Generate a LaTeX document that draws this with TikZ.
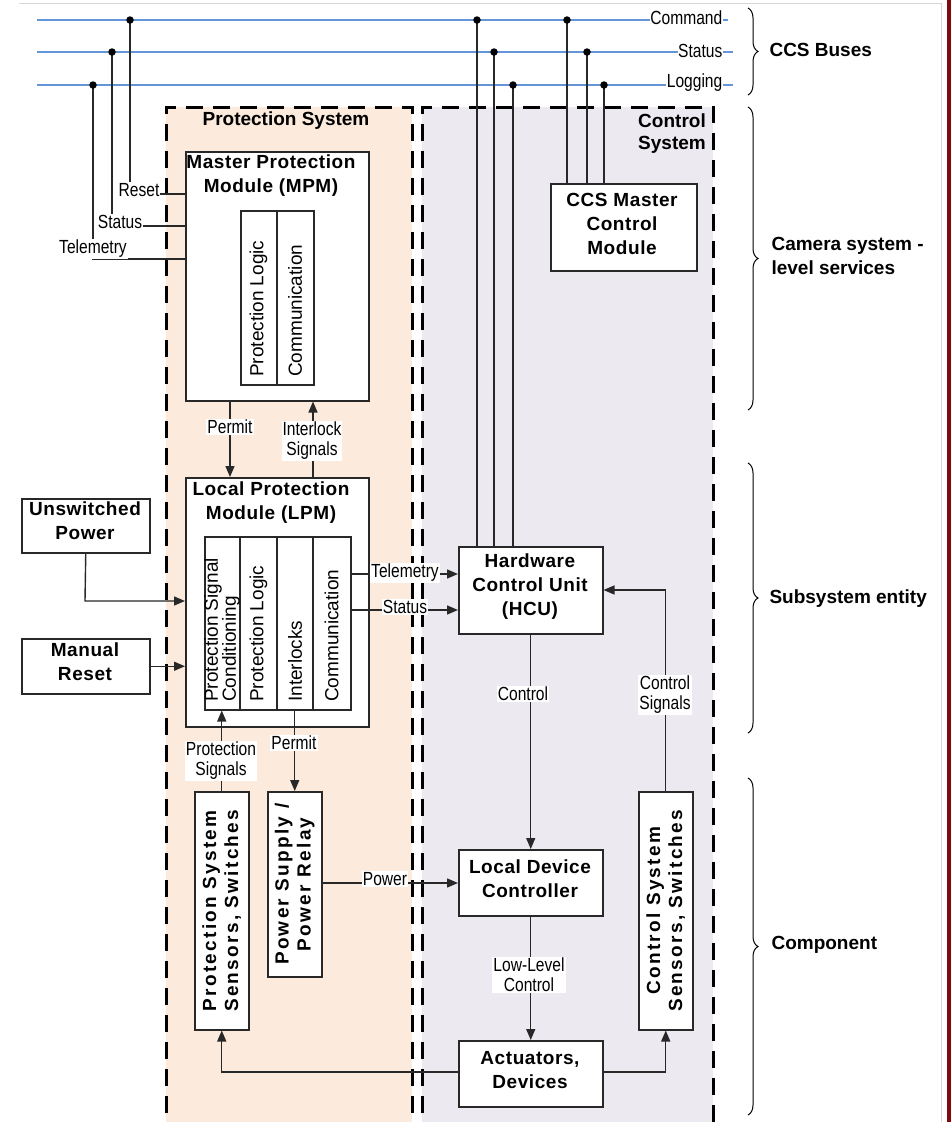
\documentclass[tikz,border=0pt]{standalone}
\usepackage{fontspec}
\setmainfont{Liberation Sans}
\newfontfamily\labfont[FakeStretch=0.82]{Liberation Sans}
\newfontfamily\boxfont[LetterSpace=3]{Liberation Sans}
\newfontfamily\rotfont[LetterSpace=12]{Liberation Sans}
\usetikzlibrary{arrows.meta,decorations.pathreplacing,calc}
\definecolor{peach}{RGB}{252,234,220}
\definecolor{lav}{RGB}{236,233,241}
\definecolor{busblue}{RGB}{100,150,215}
\definecolor{edgec}{RGB}{40,40,40}
\definecolor{darkred}{RGB}{128,10,10}
\definecolor{framegray}{RGB}{215,215,215}
\begin{document}
\begin{tikzpicture}[x=1pt,y=-1pt,
  blk/.style={draw=edgec,line width=1.5pt,fill=white,inner sep=0pt,anchor=north west},
  bt/.style={font=\boxfont\bfseries\fontsize{19}{24}\selectfont,align=center},
  rt/.style={font=\rotfont\bfseries\fontsize{19}{22}\selectfont,align=center,rotate=90},
  ct/.style={font=\fontsize{19}{18}\selectfont,align=left,rotate=90,anchor=west,inner sep=0pt},
  lab/.style={font=\labfont\fontsize{19}{20}\selectfont,fill=white,inner sep=1pt,align=center},
  wire/.style={draw=edgec,line width=1.4pt},
  arr/.style={wire,-{Triangle[length=11pt,width=9pt]}},
  bus/.style={draw=busblue,line width=2.6pt},
  region/.style={draw=black,line width=3pt,dash pattern=on 17pt off 10pt},
  brc/.style={draw=black,line width=1pt,decorate,decoration={brace,amplitude=10pt}},
  sidetxt/.style={font=\bfseries\fontsize{19}{24}\selectfont,anchor=west,align=left},
  jdot/.style={circle,fill=black,inner sep=0pt,minimum size=7.5pt}
]
\useasboundingbox (0,0) rectangle (951,1122);
\clip (0,0) rectangle (951,1122);
\fill[white] (0,0) rectangle (951,1122);
% frame
\draw[framegray,line width=1pt] (19,3) -- (941,3) -- (941,1130);
\fill[darkred] (947,0) rectangle (951,1122);

% regions
\fill[peach] (166,107) rectangle (412,1140);
\fill[lav] (422,107) rectangle (713,1140);
\draw[region] (166,1140) -- (166,107) -- (412,107) -- (412,1140);
\draw[region] (422,1140) -- (422,107) -- (713,107) -- (713,1140);
\node[font=\bfseries\fontsize{19}{24}\selectfont] (pstitle) at (286,121) {Protection System};
\node[font=\bfseries\fontsize{19}{22}\selectfont,align=center] (cstitle) at (672,134) {Control\\System};

% buses
\coordinate (cmdL) at (37,20);  \coordinate (cmdR) at (728,20);
\coordinate (stsL) at (37,52);  \coordinate (stsR) at (733,52);
\coordinate (logL) at (37,85);  \coordinate (logR) at (733,85);
\draw[bus] (cmdL) -- (cmdR);
\draw[bus] (stsL) -- (stsR);
\draw[bus] (logL) -- (logR);
\node[lab,anchor=east,inner sep=0.5pt] (cmdlab) at (723,18) {Command};
\node[lab,anchor=east,inner sep=0.5pt] (stslab) at (723,51) {Status};
\node[lab,anchor=east,inner sep=0.5pt] (loglab) at (723,83) {Logging};

% boxes
\node[blk,minimum width=183pt,minimum height=249pt] (mpm) at (185,151) {};
\node[blk,minimum width=73pt,minimum height=174pt] (mpmin) at (240,210) {};
\node[blk,minimum width=183pt,minimum height=249pt] (lpm) at (185,477) {};
\node[blk,minimum width=146pt,minimum height=173pt] (lpmin) at (204,536) {};
\node[blk,minimum width=128pt,minimum height=54pt] (unsw) at (21,498) {};
\node[blk,minimum width=128pt,minimum height=55pt] (mres) at (21,638) {};
\node[blk,minimum width=144pt,minimum height=87pt] (hcu) at (458,546) {};
\node[blk,minimum width=146pt,minimum height=87pt] (ccs) at (550,183) {};
\node[blk,minimum width=144pt,minimum height=66pt] (ldc) at (458,849) {};
\node[blk,minimum width=144pt,minimum height=66pt] (act) at (458,1040) {};
\node[blk,minimum width=54pt,minimum height=238pt] (css) at (638,791) {};
\node[blk,minimum width=54pt,minimum height=238pt] (pss) at (194,791) {};
\node[blk,minimum width=54pt,minimum height=185pt] (psu) at (267,791) {};

% column dividers
\coordinate (xc1) at (277,0);
\coordinate (xc2) at (240,0);
\coordinate (xc3) at (313,0);
\draw[wire,line width=1.5pt] (mpmin.north -| xc1) -- (mpmin.south -| xc1);
\draw[wire,line width=1.5pt] (lpmin.north -| xc2) -- (lpmin.south -| xc2);
\draw[wire,line width=1.5pt] (lpmin.north -| xc1) -- (lpmin.south -| xc1);
\draw[wire,line width=1.5pt] (lpmin.north -| xc3) -- (lpmin.south -| xc3);

% box texts
\node[bt] (mpmt) at (271,176) {Master Protection\\Module (MPM)};
\node[bt] (lpmt) at (271,503) {Local Protection\\Module (LPM)};
\node[bt] (unswt) at (85,521) {Unswitched\\Power};
\node[bt] (mrest) at (85,662) {Manual\\Reset};
\node[bt] (hcut) at (530,587) {Hardware\\Control Unit\\(HCU)};
\node[bt] (ccst) at (622,224) {CCS Master\\Control\\Module};
\node[bt] (ldct) at (530,879) {Local Device\\Controller};
\node[bt] (actt) at (530,1070) {Actuators,\\Devices};
\node[rt] (psst) at (pss.center) {Protection System\\Sensors, Switches};
\node[rt] (csst) at (css.center) {Control System\\Sensors, Switches};
\node[rt] (psut) at (psu.center) {Power Supply /\\Power Relay};

% column texts
\node[ct] (m1) at (258.5,377) {Protection Logic};
\node[ct] (m2) at (295,377) {Communication};
\node[ct] (l1) at (222,702) {Protection Signal\\Conditioning};
\node[ct] (l2) at (258.5,702) {Protection Logic};
\node[ct] (l3) at (295,702) {Interlocks};
\node[ct] (l4) at (331.5,702) {Communication};

% bus taps (left)
\coordinate (jR) at (130,20);  \coordinate (cR) at (130,194);
\coordinate (jS) at (112,52);  \coordinate (cS) at (112,226);
\coordinate (jT) at (93,85);   \coordinate (cT) at (93,259);
\draw[wire] (jR) -- (cR) -- (cR -| mpm.west);
\draw[wire] (jS) -- (cS) -- (cS -| mpm.west);
\draw[wire] (jT) -- (cT) -- (cT -| mpm.west);
\node[lab] (resetlab) at (139,190) {Reset};
\node[lab] (statuslab) at (120,222) {Status};
\node[lab] (telelab) at (93,249) {Telemetry};

% bus taps (right)
\coordinate (h1) at (477,20); \coordinate (h2) at (494,52); \coordinate (h3) at (513,85);
\coordinate (k1) at (567,20); \coordinate (k2) at (587,52); \coordinate (k3) at (604,85);
\foreach \p in {h1,h2,h3} \draw[wire] (\p) -- (\p |- hcu.north);
\foreach \p in {k1,k2,k3} \draw[wire] (\p) -- (\p |- ccs.north);
\foreach \p in {jR,jS,jT,h1,h2,h3,k1,k2,k3} \node[jdot] at (\p) {};

% MPM <-> LPM
\coordinate (xPm) at (230,0);
\draw[arr] (mpm.south -| xPm) -- (lpm.north -| xPm);
\node[lab] (permitlab) at (230,427) {Permit};
\draw[arr] (lpm.north -| xc3) -- (mpm.south -| xc3);
\node[lab] (intlab) at (312,441) {Interlock\\Signals};

% inputs to LPM
\coordinate (uc) at (85,601);
\draw[arr] (unsw.south) -- (uc) -- (uc -| lpm.west);
\draw[arr] (mres.east) -- (mres.east -| lpm.west);

% LPM -> HCU
\coordinate (yTel) at (0,574);
\coordinate (ySt) at (0,610);
\draw[arr] (lpmin.east |- yTel) -- (hcu.west |- yTel);
\node[lab] (tellab2) at (405,573) {Telemetry};
\draw[arr] (lpmin.east |- ySt) -- (hcu.west |- ySt);
\node[lab] (stlab2) at (405,607) {Status};

% HCU -> LDC -> Actuators
\draw[arr] (hcu.south) -- (ldc.north);
\node[lab] (ctrllab) at (523,694) {Control};
\draw[arr] (ldc.south) -- (act.north);
\node[lab] (lllab) at (529,975) {Low-Level\\Control};

% Actuators -> sensors
\coordinate (ya) at (0,1072);
\draw[arr] (act.west |- ya) -- (pss.south |- ya) -- (pss.south);
\draw[arr] (act.east |- ya) -- (css.south |- ya) -- (css.south);

% control signals
\coordinate (ycs) at (0,590);
\draw[arr] (css.north) -- (css.north |- ycs) -- (hcu.east |- ycs);
\node[lab] (cslab) at (665,695) {Control\\Signals};

% protection signals
\draw[arr] (pss.north) -- (pss.north |- lpmin.south);
\node[lab] (pslab) at (221,761) {Protection\\Signals};

% permit to power supply
\draw[arr] (lpmin.south -| psu.north) -- (psu.north);
\node[lab] (permitlab2) at (294,743) {Permit};

% power
\coordinate (ypw) at (0,883);
\draw[arr] (psu.east |- ypw) -- (ldc.west |- ypw);
\node[lab] (pwlab) at (385,879) {Power};

% braces
\draw[brc] (748,8) -- (748,95);
\draw[brc] (748,107) -- (748,410);
\draw[brc] (748,463) -- (748,733);
\draw[brc] (748,778) -- (748,1115);
\node[sidetxt] (b1) at (766,50) {CCS Buses};
\node[sidetxt] (b2) at (768,256) {Camera system -\\level services};
\node[sidetxt] (b3) at (766,599) {Subsystem entity};
\node[sidetxt] (b4) at (768,945) {Component};
\end{tikzpicture}
\end{document}
